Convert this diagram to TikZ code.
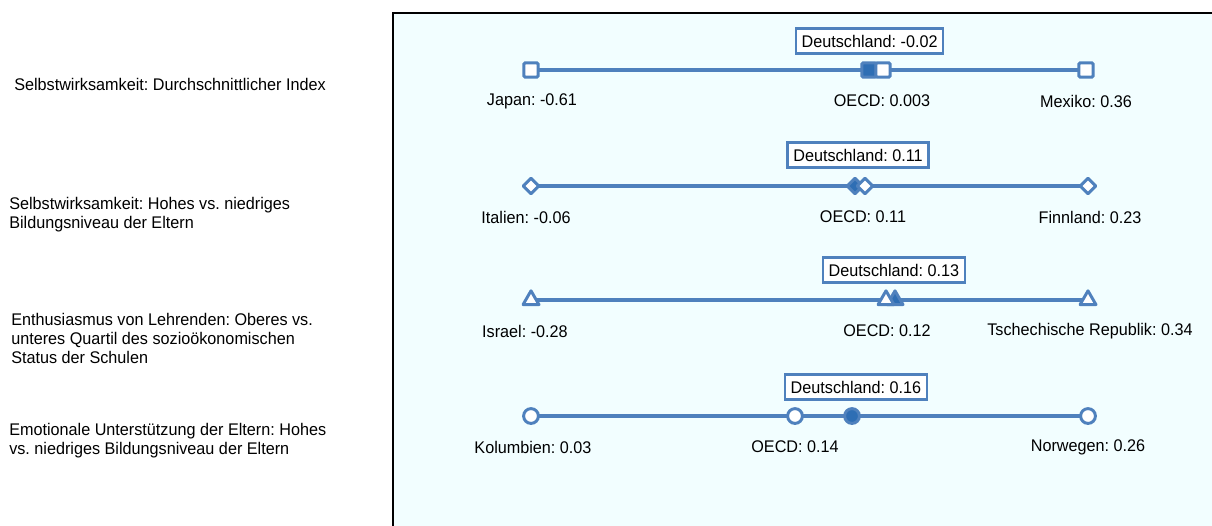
\documentclass[tikz,border=0pt]{standalone}
\usepackage{fontspec}
\setmainfont{Liberation Sans}[FakeStretch=0.96]
\usetikzlibrary{shapes.geometric,backgrounds}
\definecolor{oecd_blue}{RGB}{79, 129, 189}
\definecolor{de_blue}{RGB}{46, 110, 180}
\definecolor{plot_bg}{RGB}{242, 254, 255}
\tikzstyle{sq}=[rectangle,rounded corners=1pt,fill=white,draw=oecd_blue,
  line width=2.1pt,inner sep=0pt,minimum size=0.36cm]
\tikzstyle{sqde}=[sq,fill=de_blue]
\tikzstyle{dm}=[diamond,fill=white,draw=oecd_blue,line join=round,
  line width=2.1pt,inner sep=0pt,minimum width=0.42cm,minimum height=0.42cm]
\tikzstyle{dmde}=[dm,fill=de_blue]
\tikzstyle{tri}=[regular polygon,regular polygon sides=3,fill=white,draw=oecd_blue,
  line join=round,line width=2.1pt,inner sep=0pt,minimum size=0.46cm]
\tikzstyle{trde}=[tri,fill=de_blue]
\tikzstyle{ci}=[circle,fill=white,draw=oecd_blue,
  line width=2.1pt,inner sep=0pt,minimum size=0.37cm]
\tikzstyle{cide}=[ci,fill=de_blue]
\tikzstyle{lbl}=[font=\fontsize{12}{13.5}\selectfont\frenchspacing,inner sep=0pt]
\tikzstyle{rowlbl}=[lbl,anchor=west,align=left]
\tikzstyle{dlbl}=[rectangle,fill=white,draw=oecd_blue,line width=1.8pt,
  font=\fontsize{12}{13.5}\selectfont\frenchspacing,inner xsep=4pt,minimum height=0.62cm]
\tikzstyle{bar}=[draw=oecd_blue,line width=2.85pt]
\tikzstyle{none}=[]

\begin{document}
\begin{tikzpicture}
    \useasboundingbox (0, 0) rectangle (30.3, -13.125);
    % Selbstwirksamkeit: Index
    \node [style=sq] (0) at (13.275, -1.75) {};
    \node [style=sqde] (1) at (21.725, -1.75) {};
    \node [style=sq] (2) at (22.075, -1.75) {};
    \node [style=sq] (3) at (27.15, -1.75) {};
    \node [style=dlbl] (4) at (21.74, -1.025) {Deutschland: -0.02};
    \node [style=lbl] (5) at (13.3, -2.525) {Japan: -0.61};
    \node [style=lbl] (6) at (22.05, -2.525) {OECD: 0.003};
    \node [style=lbl] (7) at (27.15, -2.525) {Mexiko: 0.36};
    \node [style=rowlbl] (8) at (0.35, -2.1) {Selbstwirksamkeit: Durchschnittlicher Index};
    % Selbstwirksamkeit: Eltern
    \node [style=dm] (10) at (13.275, -4.65) {};
    \node [style=dmde] (11) at (21.375, -4.65) {};
    \node [style=dm] (12) at (21.625, -4.65) {};
    \node [style=dm] (13) at (27.2, -4.65) {};
    \node [style=dlbl] (14) at (21.45, -3.875) {Deutschland: 0.11};
    \node [style=lbl] (15) at (13.15, -5.425) {Italien: -0.06};
    \node [style=lbl] (16) at (21.575, -5.425) {OECD: 0.11};
    \node [style=lbl] (17) at (27.25, -5.425) {Finnland: 0.23};
    \node [style=rowlbl] (18) at (0.225, -5.3625) {Selbstwirksamkeit: Hohes vs. niedriges\\Bildungsniveau der Eltern};
    % Enthusiasmus
    \node [style=tri] (20) at (13.275, -7.5) {};
    \node [style=trde] (21) at (22.375, -7.5) {};
    \node [style=tri] (22) at (22.15, -7.5) {};
    \node [style=tri] (23) at (27.2, -7.5) {};
    \node [style=dlbl] (24) at (22.35, -6.75) {Deutschland: 0.13};
    \node [style=lbl] (25) at (13.125, -8.275) {Israel: -0.28};
    \node [style=lbl] (26) at (22.175, -8.275) {OECD: 0.12};
    \node [style=lbl] (27) at (27.25, -8.275) {Tschechische Republik: 0.34};
    \node [style=rowlbl] (28) at (0.275, -8.45) {Enthusiasmus von Lehrenden: Oberes vs.\\unteres Quartil des sozioökonomischen\\Status der Schulen};
    % Emotionale Unterstuetzung
    \node [style=ci] (30) at (13.275, -10.4) {};
    \node [style=cide] (31) at (21.3, -10.4) {};
    \node [style=ci] (32) at (19.875, -10.4) {};
    \node [style=ci] (33) at (27.2, -10.4) {};
    \node [style=dlbl] (34) at (21.4, -9.675) {Deutschland: 0.16};
    \node [style=lbl] (35) at (13.325, -11.175) {Kolumbien: 0.03};
    \node [style=lbl] (36) at (19.875, -11.175) {OECD: 0.14};
    \node [style=lbl] (37) at (27.2, -11.175) {Norwegen: 0.26};
    \node [style=rowlbl] (38) at (0.225, -11.0125) {Emotionale Unterstützung der Eltern: Hohes\\vs. niedriges Bildungsniveau der Eltern};
    \begin{scope}[on background layer]
        \draw [fill=plot_bg, line width=1pt] (9.825, -0.325) rectangle (30.5, -13.3);
        \draw [style=bar] (0.center) to (3.center);
        \draw [style=bar] (10.center) to (13.center);
        \draw [style=bar] (20.center) to (23.center);
        \draw [style=bar] (30.center) to (33.center);
    \end{scope}
\end{tikzpicture}
\end{document}
